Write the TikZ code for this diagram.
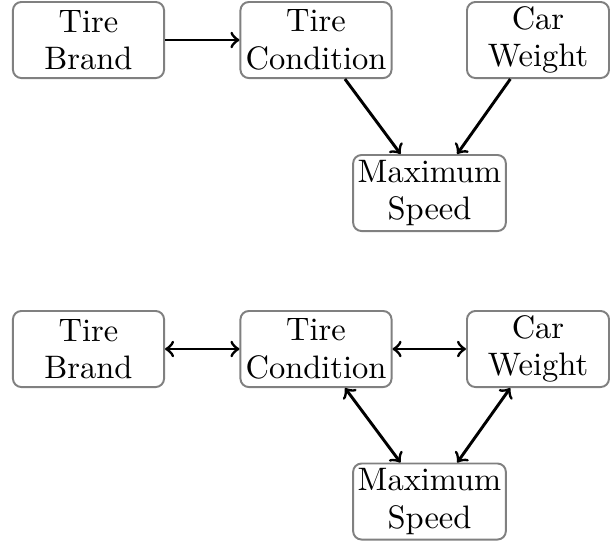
\documentclass[tikz,border=0pt]{standalone}
\usetikzlibrary{arrows}
\begin{document}
\begin{tikzpicture}[x=0.3077pt, y=-0.3077pt,
  var/.style={draw=gray, line width=0.6pt, rounded corners=2.6pt,
    align=center, inner sep=0.5pt, minimum width=46.5pt,
    minimum height=23.4pt, font=\fontsize{10}{11.5}\selectfont},
  narrow/.style={minimum width=43.7pt},
  wide/.style={minimum width=47pt},
  link/.style={line width=0.9pt, black}]
\useasboundingbox (0,0) rectangle (611,545);
% causal graph
\node[var] (b1) at (88.5,40) {Tire\\Brand};
\node[var] (c1) at (316,40) {Tire\\Condition};
\node[var, narrow] (w1) at (538,40) {Car\\Weight};
\node[var, wide] (s1) at (429.5,193) {Maximum\\Speed};
\draw[link,->] (b1) -- (c1);
\draw[link,->] (c1) -- (s1);
\draw[link,->] (w1) -- (s1);
% undirected dependencies
\node[var] (b2) at (88.5,349) {Tire\\Brand};
\node[var] (c2) at (316,349) {Tire\\Condition};
\node[var, narrow] (w2) at (538,349) {Car\\Weight};
\node[var, wide] (s2) at (429.5,501.5) {Maximum\\Speed};
\draw[link,<->] (b2) -- (c2);
\draw[link,<->] (c2) -- (w2);
\draw[link,<->] (c2) -- (s2);
\draw[link,<->] (w2) -- (s2);
\end{tikzpicture}
\end{document}
